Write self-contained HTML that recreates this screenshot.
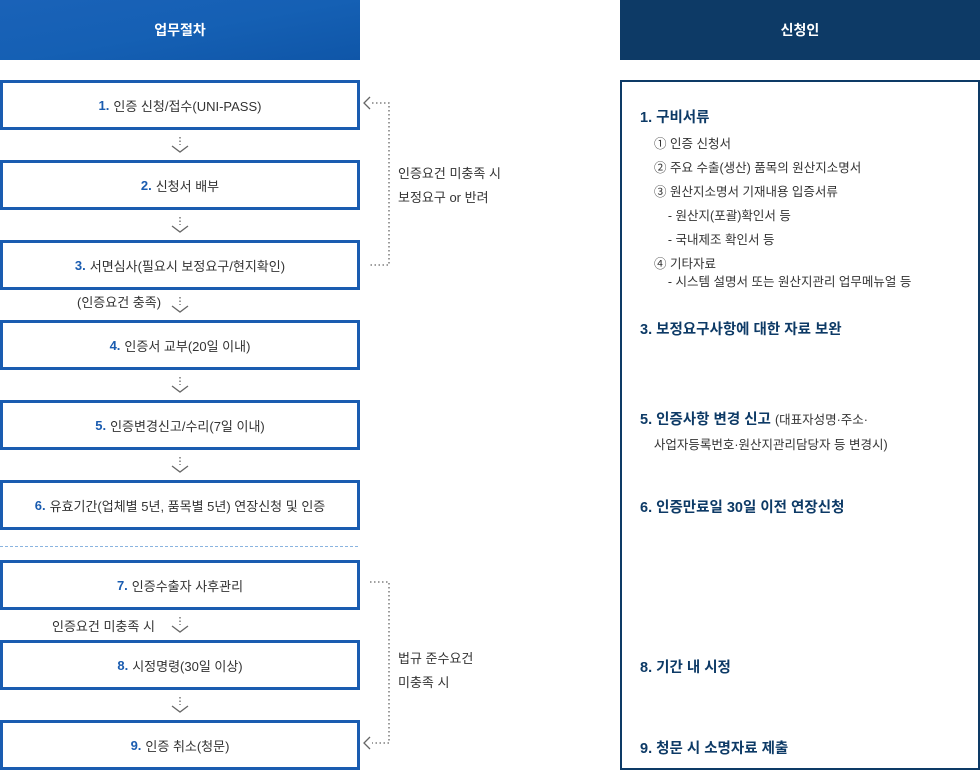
<!DOCTYPE html>
<html><head><meta charset="utf-8"><style>
*{margin:0;padding:0;box-sizing:border-box}
body{width:980px;height:770px;background:#fff;position:relative;overflow:hidden;font-family:"Liberation Sans","Noto Sans CJK KR",sans-serif;color:#333}
.hd{position:absolute;top:0;height:60px;color:#fff;font-size:14px;font-weight:bold;display:flex;align-items:center;justify-content:center}
.b{position:absolute;left:0;width:360px;height:50px;border:3px solid #1a5cb0;display:flex;align-items:center;justify-content:center;font-size:13px;color:#333}
.b span{color:#1a5cb0;font-weight:bold;margin-right:4px}
.t{position:absolute;font-size:13px;color:#333;line-height:24px}
.r{position:absolute;left:620px;top:80px;width:360px;height:690px;border:2px solid #0d3a66}
.h{position:absolute;left:18px;font-size:14.5px;font-weight:bold;color:#0d3a66}
.h small{font-size:12.5px;font-weight:normal;color:#333}
.l{position:absolute;left:32px;font-size:12.5px;color:#333;line-height:24px}
</style></head><body>
<div class="hd" style="left:0;width:360px;background:linear-gradient(170deg,#1a62b8 0%,#1560b4 50%,#0f56a8 100%)">업무절차</div>
<div class="hd" style="left:620px;width:360px;background:#0d3a66">신청인</div>

<div class="b" style="top:80px"><span>1.</span>인증 신청/접수(UNI-PASS)</div>
<div class="b" style="top:160px"><span>2.</span>신청서 배부</div>
<div class="b" style="top:240px"><span>3.</span>서면심사(필요시 보정요구/현지확인)</div>
<div class="b" style="top:320px"><span>4.</span>인증서 교부(20일 이내)</div>
<div class="b" style="top:400px"><span>5.</span>인증변경신고/수리(7일 이내)</div>
<div class="b" style="top:480px"><span>6.</span>유효기간(업체별 5년, 품목별 5년) 연장신청 및 인증</div>
<div class="b" style="top:560px"><span>7.</span>인증수출자 사후관리</div>
<div class="b" style="top:640px"><span>8.</span>시정명령(30일 이상)</div>
<div class="b" style="top:720px"><span>9.</span>인증 취소(청문)</div>

<div class="t" style="left:77px;top:291px">(인증요건 충족)</div>
<div class="t" style="left:52px;top:615px">인증요건 미충족 시</div>
<div class="t" style="left:398px;top:162px">인증요건 미충족 시<br>보정요구 or 반려</div>
<div class="t" style="left:398px;top:647px">법규 준수요건<br>미충족 시</div>

<svg width="980" height="770" style="position:absolute;left:0;top:0" fill="none">
<line x1="0" y1="546.5" x2="360" y2="546.5" stroke="#8ab4e0" stroke-dasharray="3,2"/>
<g stroke="#666" stroke-width="1.3">
<g id="a"><line x1="180" y1="137" x2="180" y2="145" stroke-dasharray="1.5,2"/><polyline points="172,146 180,152 188,146"/></g>
<use href="#a" y="80"/><use href="#a" y="160"/><use href="#a" y="240"/><use href="#a" y="320"/><use href="#a" y="480"/><use href="#a" y="560"/>
<polyline points="370,97 364,103 370,109"/>
<polyline points="370,737 364,743 370,749"/>
</g>
<g stroke="#666" stroke-width="1.3" stroke-dasharray="1.5,2.5">
<polyline points="372,103 389,103 389,265 370,265"/>
<polyline points="370,582 389,582 389,743 372,743"/>
</g>
</svg>

<div class="r">
<div class="h" style="top:24px">1. 구비서류</div>
<div class="l" style="top:50px">① 인증 신청서<br>② 주요 수출(생산) 품목의 원산지소명서<br>③ 원산지소명서 기재내용 입증서류<br>&nbsp;&nbsp;&nbsp;&nbsp;- 원산지(포괄)확인서 등<br>&nbsp;&nbsp;&nbsp;&nbsp;- 국내제조 확인서 등<br><span style="line-height:18px;display:block;margin-top:3px">④ 기타자료<br>&nbsp;&nbsp;&nbsp;&nbsp;- 시스템 설명서 또는 원산지관리 업무메뉴얼 등</span></div>
<div class="h" style="top:236px">3. 보정요구사항에 대한 자료 보완</div>
<div class="h" style="top:326px;line-height:25px">5. 인증사항 변경 신고 <small>(대표자성명·주소·<br>&nbsp;&nbsp;&nbsp;&nbsp;사업자등록번호·원산지관리담당자 등 변경시)</small></div>
<div class="h" style="top:414px">6. 인증만료일 30일 이전 연장신청</div>
<div class="h" style="top:574px">8. 기간 내 시정</div>
<div class="h" style="top:655px">9. 청문 시 소명자료 제출</div>
</div>
</body></html>
